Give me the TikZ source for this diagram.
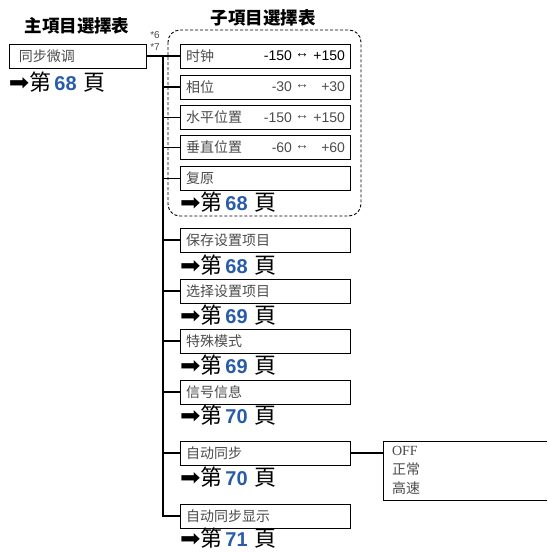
\documentclass[tikz,border=0pt]{standalone}
\usepackage{fontspec}
\setmainfont{Liberation Sans}
\newfontfamily\cjk{Noto Sans CJK SC}
\newfontfamily\symf{DejaVu Sans}
\newfontfamily\serf{Liberation Serif}
\definecolor{numblue}{RGB}{40,92,170}
\definecolor{txtgray}{RGB}{75,75,75}
\newcommand\pgref[1]{{\symf\fontsize{20}{22}\selectfont\scalebox{1.22}[1.15]{➡}}{\cjk\fontsize{22}{24}\selectfont 第}\hspace{3pt}{\bfseries\color{numblue}#1}\hspace{7pt}{\cjk\fontsize{22}{24}\selectfont 頁}}
\begin{document}
\begin{tikzpicture}[x=1pt,y=-1pt,
  every node/.style={inner sep=0pt,outer sep=0pt},
  mainbox/.style={draw,line width=1pt,anchor=west,minimum height=24pt,inner xsep=10pt,text width=117pt,align=left,text=txtgray,font=\cjk\fontsize{14}{16}\selectfont},
  subbox/.style={draw,line width=1pt,anchor=west,minimum height=24pt,inner xsep=6pt,text width=158pt,align=left,text=txtgray,font=\cjk\fontsize{14}{16}\selectfont},
  title/.style={font=\cjk\bfseries\fontsize{17.5}{19}\selectfont},
  pref/.style={anchor=west,font=\fontsize{20}{22}\selectfont},
  val/.style={font=\fontsize{14}{16}\selectfont,text=txtgray},
  star/.style={font=\fontsize{10}{11}\selectfont,text=txtgray},
  conn/.style={line width=1.3pt}]
\useasboundingbox (0,0) rectangle (547,552);

% titles
\node[title] (t1) at (77,26) {主項目選擇表};
\node[title] (t2) at (263,18) {子項目選擇表};

% main
\node[mainbox] (main) at (9,56) {同步微调};
\node[pref] (pmain) at (9,82) {\pgref{68}};
\node[star] (s6) at (155,35) {*6};
\node[star] (s7) at (155,47) {*7};

% dashed group
\draw[line width=0.9pt,dash pattern=on 3pt off 2pt,rounded corners=12pt] (168,30) rectangle (361,216);

% sub boxes
\node[subbox] (clock) at (180,56) {时钟};
\node[subbox] (phase) at (180,87) {相位};
\node[subbox] (hpos) at (180,117.5) {水平位置};
\node[subbox] (vpos) at (180,147.5) {垂直位置};
\node[subbox] (reset) at (180,178.5) {复原};
\node[pref] (preset) at (180,202) {\pgref{68}};

% values
\node[val,anchor=east,text=black] (c1) at (292,56) {-150};
\node[val,text=black] (c2) at (302,56) {↔};
\node[val,anchor=east,text=black] (c3) at (345,56) {+150};
\node[val,anchor=east] (p1) at (292,87) {-30};
\node[val] (p2) at (302,87) {↔};
\node[val,anchor=east] (p3) at (345,87) {+30};
\node[val,anchor=east] (h1) at (292,117.5) {-150};
\node[val] (h2) at (302,117.5) {↔};
\node[val,anchor=east] (h3) at (345,117.5) {+150};
\node[val,anchor=east] (v1) at (292,147.5) {-60};
\node[val] (v2) at (302,147.5) {↔};
\node[val,anchor=east] (v3) at (345,147.5) {+60};

% lower boxes
\node[subbox] (save) at (180,240) {保存设置项目};
\node[pref] (psave) at (180,265) {\pgref{68}};
\node[subbox] (select) at (180,291) {选择设置项目};
\node[pref] (pselect) at (180,315) {\pgref{69}};
\node[subbox] (special) at (180,341) {特殊模式};
\node[pref] (pspecial) at (180,365) {\pgref{69}};
\node[subbox] (signal) at (180,392) {信号信息};
\node[pref] (psignal) at (180,415) {\pgref{70}};
\node[subbox] (auto) at (180,453) {自动同步};
\node[pref] (pauto) at (180,477) {\pgref{70}};
\node[subbox] (autodisp) at (180,516) {自动同步显示};
\node[pref] (pautodisp) at (180,538.5) {\pgref{71}};

% options box
\node[anchor=north west,minimum width=164pt,minimum height=59pt,inner xsep=9pt,inner ysep=5pt,text width=146pt,align=left,text=txtgray,font=\fontsize{14}{19}\selectfont] (opt) at (383,441)
  {\serf OFF\\ \cjk 正常\\ \cjk 高速};
\draw[line width=1pt] (opt.north east) -- (opt.north west) -- (opt.south west) -- (opt.south east);

% connectors
\coordinate (t0) at (163,56);
\draw[conn] (main.east) -- (t0) -- (clock.west);
\draw[conn] (t0) |- (autodisp.west);
\foreach \b in {phase,hpos,vpos,reset,save,select,special,signal,auto}
  \draw[conn] (\b.west) -- (\b.west -| t0);
\draw[conn] (auto.east) -- (auto.east -| opt.west);
\end{tikzpicture}
\end{document}
